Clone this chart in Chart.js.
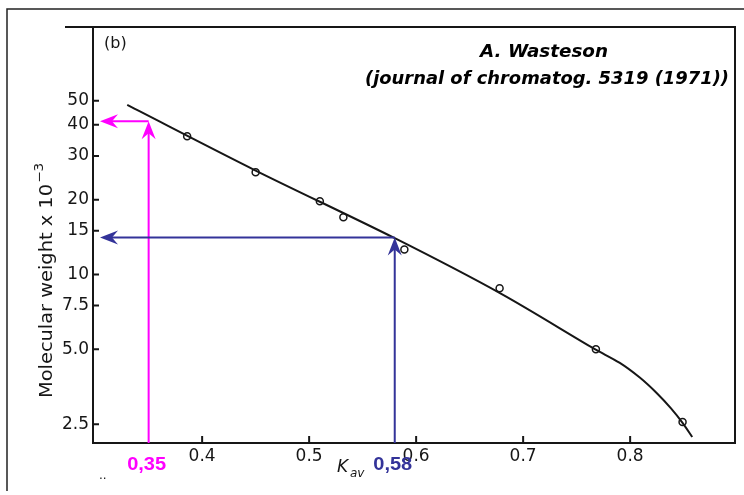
<!DOCTYPE html>
<html>
<head>
<meta charset="utf-8">
<script src="https://cdn.jsdelivr.net/npm/chart.js@4/dist/chart.umd.min.js"></script>
<style>
  body { margin: 0; background: #fff; }
  #wrap { width: 744px; height: 495px; }
</style>
</head>
<body>
<div id="wrap"><canvas id="chart" width="744" height="495"></canvas></div>
<script>
// measured points (Kav vs molecular weight x 10^-3)
const kavPoints = [0.386, 0.450, 0.510, 0.532, 0.589, 0.678, 0.768, 0.849];
const mwPoints = [36.0, 25.8, 19.7, 17.0, 12.6, 8.8, 5.0, 2.55];
// calibration curve
const kavCurve = [0.330, 0.450, 0.580, 0.680, 0.767, 0.790, 0.809, 0.825, 0.838, 0.849, 0.858];
const mwCurve = [48.1, 26.2, 14.0, 8.34, 5.01, 4.42, 3.85, 3.33, 2.90, 2.53, 2.22];
// axes
const xTicks = [0.4, 0.5, 0.6, 0.7, 0.8];
const yTicks = [2.5, 5, 7.5, 10, 15, 20, 30, 40, 50];
const yTickLabels = ['2.5', '5.0', '7.5', '10', '15', '20', '30', '40', '50'];
// read-off arrows
const readKav = [0.35, 0.58];
const readMw = [41.4, 14.1];
const readLabels = ['0,35', '0,58'];

const readColors = ['#ff00ff', '#333399'];
const ink = '#161616';

function arrowUp(ctx, x, y) {
  ctx.beginPath();
  ctx.moveTo(x, y);
  ctx.lineTo(x - 7, y + 18);
  ctx.lineTo(x, y + 12);
  ctx.lineTo(x + 7, y + 18);
  ctx.closePath();
  ctx.fill();
}
function arrowLeft(ctx, x, y) {
  ctx.beginPath();
  ctx.moveTo(x, y);
  ctx.lineTo(x + 18, y - 7);
  ctx.lineTo(x + 12, y);
  ctx.lineTo(x + 18, y + 7);
  ctx.closePath();
  ctx.fill();
}
// draw text squeezed/stretched to a given width
function fitText(ctx, text, cx, cy, width) {
  const w = ctx.measureText(text).width;
  ctx.save();
  ctx.translate(cx, cy);
  ctx.scale(width / w, 1);
  ctx.textAlign = 'center';
  ctx.fillText(text, 0, 0);
  ctx.restore();
}

const decor = {
  id: 'decor',
  beforeDraw(chart) {
    const ctx = chart.ctx;
    ctx.save();
    ctx.strokeStyle = '#222';
    ctx.lineWidth = 1.5;
    ctx.beginPath();
    ctx.moveTo(7, 491);
    ctx.lineTo(7, 9);
    ctx.lineTo(744, 9);
    ctx.stroke();
    ctx.restore();
  },
  afterDraw(chart) {
    const ctx = chart.ctx;
    const a = chart.chartArea;
    const xs = chart.scales.x, ys = chart.scales.y;
    ctx.save();
    // frame
    ctx.strokeStyle = ink;
    ctx.lineWidth = 2;
    ctx.beginPath();
    ctx.moveTo(a.left - 28, a.top);
    ctx.lineTo(a.right, a.top);
    ctx.lineTo(a.right, a.bottom);
    ctx.lineTo(a.left, a.bottom);
    ctx.lineTo(a.left, a.top);
    ctx.stroke();
    // inward ticks
    ctx.beginPath();
    yTicks.forEach(v => {
      const y = ys.getPixelForValue(v);
      ctx.moveTo(a.left, y);
      ctx.lineTo(a.left + 6, y);
    });
    xTicks.forEach(v => {
      const x = xs.getPixelForValue(v);
      ctx.moveTo(x, a.bottom);
      ctx.lineTo(x, a.bottom - 7);
    });
    ctx.stroke();

    // read-off arrows
    readKav.forEach((k, i) => {
      const x = xs.getPixelForValue(k);
      const y = ys.getPixelForValue(readMw[i]);
      ctx.strokeStyle = readColors[i];
      ctx.fillStyle = readColors[i];
      ctx.lineWidth = 2;
      ctx.beginPath();
      ctx.moveTo(x, a.bottom);
      ctx.lineTo(x, y + 10);
      ctx.moveTo(x, y);
      ctx.lineTo(a.left + 18, y);
      ctx.stroke();
      arrowUp(ctx, x, y);
      arrowLeft(ctx, a.left + 7, y);
      ctx.font = 'bold 18px "Liberation Sans", Arial, sans-serif';
      ctx.textBaseline = 'middle';
      fitText(ctx, readLabels[i], x - 2, a.bottom + 22, 39);
    });

    // panel label and citation
    ctx.fillStyle = ink;
    ctx.textBaseline = 'middle';
    ctx.textAlign = 'left';
    ctx.font = '16px "DejaVu Sans", sans-serif';
    ctx.fillText('(b)', 104, 44);
    ctx.fillStyle = '#000';
    ctx.font = 'italic bold 18px "DejaVu Sans", sans-serif';
    fitText(ctx, 'A. Wasteson', 544, 52, 128);
    fitText(ctx, '(journal of chromatog. 5319 (1971))', 547, 79, 364);

    // x title K_av
    ctx.fillStyle = ink;
    ctx.textAlign = 'left';
    ctx.font = 'italic 17px "DejaVu Sans", sans-serif';
    ctx.fillText('K', 337, 468);
    ctx.font = 'italic 12px "DejaVu Sans", sans-serif';
    ctx.fillText('av', 350, 474);
    ctx.font = '12px "DejaVu Sans", sans-serif';
    ctx.fillText('..', 99, 476);

    // y title
    ctx.save();
    ctx.translate(48, 398);
    ctx.rotate(-Math.PI / 2);
    ctx.textAlign = 'left';
    ctx.textBaseline = 'middle';
    ctx.font = '17px "DejaVu Sans", sans-serif';
    const t = 'Molecular weight x 10';
    const w = ctx.measureText(t).width;
    ctx.scale(214 / w, 1);
    ctx.fillText(t, 0, 0);
    ctx.font = '12px "DejaVu Sans", sans-serif';
    ctx.fillText('\u22123', w + 1, -8);
    ctx.restore();

    ctx.restore();
  }
};

new Chart(document.getElementById('chart'), {
  type: 'scatter',
  data: {
    datasets: [
      {
        type: 'line',
        data: kavCurve.map((k, i) => ({ x: k, y: mwCurve[i] })),
        borderColor: ink,
        borderWidth: 2,
        pointRadius: 0,
        tension: 0.3,
        fill: false
      },
      {
        data: kavPoints.map((k, i) => ({ x: k, y: mwPoints[i] })),
        backgroundColor: '#fff',
        borderColor: ink,
        borderWidth: 1.5,
        pointRadius: 3.5
      }
    ]
  },
  options: {
    responsive: false,
    animation: false,
    layout: { padding: { top: 27, right: 9, left: 0, bottom: 0 } },
    plugins: { legend: { display: false }, tooltip: { enabled: false } },
    scales: {
      x: {
        type: 'linear',
        min: 0.298,
        max: 0.898,
        afterBuildTicks: s => { s.ticks = xTicks.map(v => ({ value: v })); },
        afterFit: s => { s.height = 52; },
        grid: { display: false, drawTicks: false },
        border: { display: false },
        ticks: {
          padding: 3,
          color: ink,
          font: { family: '"DejaVu Sans", sans-serif', size: 17 },
          callback: v => v.toFixed(1)
        }
      },
      y: {
        type: 'logarithmic',
        min: 2.1,
        max: 99,
        afterBuildTicks: s => { s.ticks = yTicks.map(v => ({ value: v })); },
        afterFit: s => { s.width = 93; },
        grid: { display: false, drawTicks: false },
        border: { display: false },
        ticks: {
          padding: 4,
          color: ink,
          font: { family: '"DejaVu Sans", sans-serif', size: 17 },
          callback: v => yTickLabels[yTicks.indexOf(v)]
        }
      }
    }
  },
  plugins: [decor]
});
</script>
</body>
</html>
